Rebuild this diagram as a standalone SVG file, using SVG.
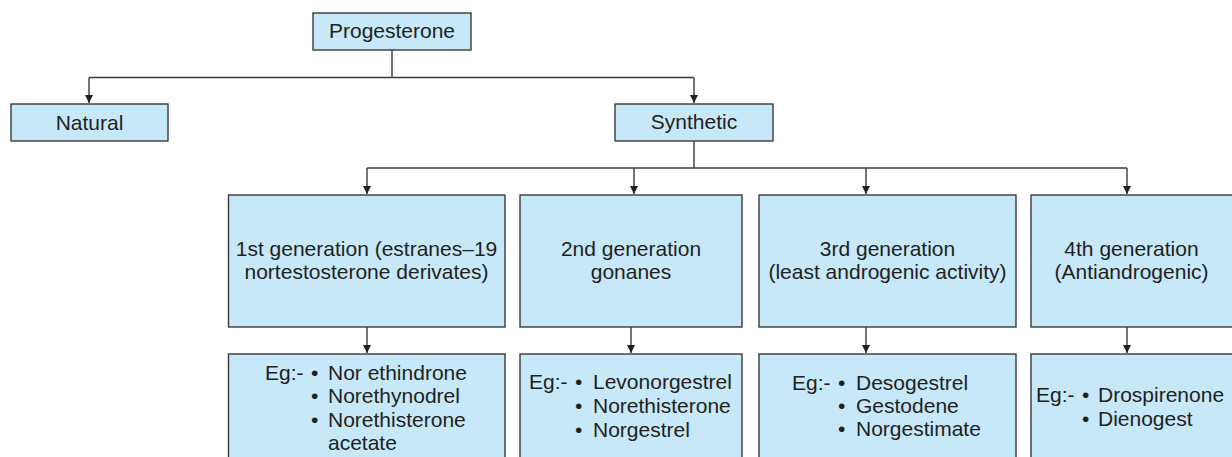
<svg xmlns="http://www.w3.org/2000/svg" width="1232" height="457" viewBox="0 0 1232 457">
<style>
.box{fill:#c6e8f8;stroke:#3a3a3a;stroke-width:1.4}
.t{font-family:"Liberation Sans",Arial,sans-serif;font-size:21px;fill:#231f20}
.m{text-anchor:middle}
.ln{fill:none;stroke:#3a3a3a;stroke-width:1.4}
</style>
<defs>
<marker id="ah" markerWidth="10" markerHeight="10" refX="8" refY="4" orient="auto" markerUnits="userSpaceOnUse">
<path d="M0,0 L8,4 L0,8 Z" fill="#231f20"/>
</marker>
</defs>
<g id="connectors">
<path class="ln" d="M392,50 V77.5 M89,77.5 H694"/>
<path class="ln" d="M89,77.5 V103" marker-end="url(#ah)"/>
<path class="ln" d="M694,77.5 V103" marker-end="url(#ah)"/>
<path class="ln" d="M694,141 V168 M367,168 H1127"/>
<path class="ln" d="M367,168 V194" marker-end="url(#ah)"/>
<path class="ln" d="M634,168 V194" marker-end="url(#ah)"/>
<path class="ln" d="M866,168 V194" marker-end="url(#ah)"/>
<path class="ln" d="M1127,168 V194" marker-end="url(#ah)"/>
<path class="ln" d="M367,327 V353" marker-end="url(#ah)"/>
<path class="ln" d="M631,327 V353" marker-end="url(#ah)"/>
<path class="ln" d="M866,327 V353" marker-end="url(#ah)"/>
<path class="ln" d="M1127,327 V353" marker-end="url(#ah)"/>
</g>
<g id="progesterone">
<rect class="box" x="313" y="13" width="158" height="37"/>
<text class="t m" x="392" y="38">Progesterone</text>
</g>
<g id="natural">
<rect class="box" x="11" y="104" width="157" height="37"/>
<text class="t m" x="89.5" y="130">Natural</text>
</g>
<g id="synthetic">
<rect class="box" x="615" y="104" width="158" height="37"/>
<text class="t m" x="694" y="129">Synthetic</text>
</g>
<g id="gen1">
<rect class="box" x="228.5" y="195" width="276.5" height="132"/>
<text class="t m" x="366.5" y="256">1st generation (estranes–19</text>
<text class="t m" x="366.5" y="279">nortestosterone derivates)</text>
</g>
<g id="gen2">
<rect class="box" x="520" y="195" width="222" height="132"/>
<text class="t m" x="631" y="256">2nd generation</text>
<text class="t m" x="631" y="279">gonanes</text>
</g>
<g id="gen3">
<rect class="box" x="759" y="195" width="257" height="132"/>
<text class="t m" x="887.5" y="256">3rd generation</text>
<text class="t m" x="887.5" y="279">(least androgenic activity)</text>
</g>
<g id="gen4">
<rect class="box" x="1031" y="195" width="202" height="132"/>
<text class="t m" x="1131.5" y="256">4th generation</text>
<text class="t m" x="1131.5" y="279">(Antiandrogenic)</text>
</g>
<g id="eg1">
<rect class="box" x="228.5" y="354" width="276.5" height="110"/>
<text class="t" x="265" y="379.5">Eg:-</text>
<text class="t" x="311" y="379.5">•</text><text class="t" x="328" y="379.5">Nor ethindrone</text>
<text class="t" x="311" y="403">•</text><text class="t" x="328" y="403">Norethynodrel</text>
<text class="t" x="311" y="426.5">•</text><text class="t" x="328" y="426.5">Norethisterone</text>
<text class="t" x="328" y="450">acetate</text>
</g>
<g id="eg2">
<rect class="box" x="520" y="354" width="222" height="110"/>
<text class="t" x="529" y="389">Eg:-</text>
<text class="t" x="575" y="389">•</text><text class="t" x="593" y="389">Levonorgestrel</text>
<text class="t" x="575" y="413">•</text><text class="t" x="593" y="413">Norethisterone</text>
<text class="t" x="575" y="437">•</text><text class="t" x="593" y="437">Norgestrel</text>
</g>
<g id="eg3">
<rect class="box" x="759" y="354" width="257" height="110"/>
<text class="t" x="792" y="390">Eg:-</text>
<text class="t" x="838" y="390">•</text><text class="t" x="856" y="390">Desogestrel</text>
<text class="t" x="838" y="413">•</text><text class="t" x="856" y="413">Gestodene</text>
<text class="t" x="838" y="436">•</text><text class="t" x="856" y="436">Norgestimate</text>
</g>
<g id="eg4">
<rect class="box" x="1031" y="354" width="202" height="110"/>
<text class="t" x="1036" y="402">Eg:-</text>
<text class="t" x="1082" y="402">•</text><text class="t" x="1098" y="402">Drospirenone</text>
<text class="t" x="1082" y="426">•</text><text class="t" x="1098" y="426">Dienogest</text>
</g>
</svg>
